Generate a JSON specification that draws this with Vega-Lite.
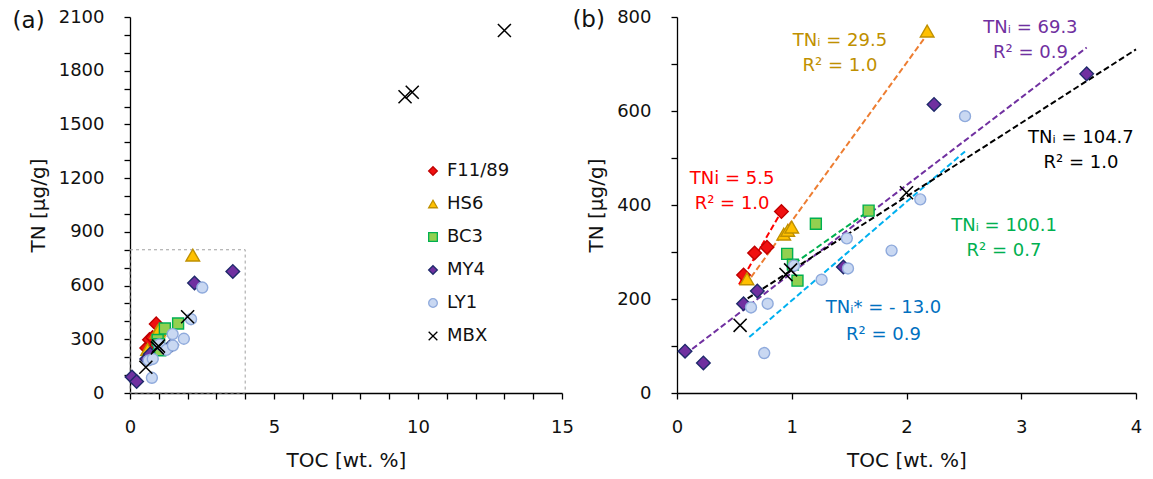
{
  "$schema": "https://vega.github.io/schema/vega-lite/v6.json",
  "background": "white",
  "padding": {"left": 12, "top": 8, "right": 5, "bottom": 2},
  "bounds": "flush",
  "spacing": 115,
  "config": {
    "view": {"stroke": null},
    "font": "DejaVu Sans",
    "axis": {
      "grid": false, "domainColor": "#000000", "tickColor": "#000000", "domainWidth": 1.3, "tickWidth": 1.3,
      "tickSize": 6, "labelFont": "DejaVu Sans", "labelFontSize": 18, "labelColor": "#111111",
      "titleFont": "DejaVu Sans", "titleFontSize": 20, "titleFontWeight": "normal", "titleColor": "#111111",
      "labelOverlap": false, "labelFlush": false, "labelBound": false
    },
    "axisX": {"titlePadding": 14, "labelPadding": 19},
    "axisY": {"titlePadding": 10, "labelPadding": 20},
    "legend": {"orient": "none", "padding": 0, "labelFont": "DejaVu Sans", "labelFontSize": 18, "labelColor": "#111111", "symbolSize": 75, "symbolStrokeWidth": 1.3, "rowPadding": 15, "labelOffset": 5}
  },
  "datasets": {
    "points": [
      {"series": "F11/89", "TOC": 0.58, "TN": 251},
      {"series": "F11/89", "TOC": 0.676, "TN": 298},
      {"series": "F11/89", "TOC": 0.784, "TN": 310},
      {"series": "F11/89", "TOC": 0.91, "TN": 386},
      {"series": "HS6", "TOC": 0.61, "TN": 243},
      {"series": "HS6", "TOC": 0.93, "TN": 338},
      {"series": "HS6", "TOC": 0.965, "TN": 346},
      {"series": "HS6", "TOC": 1.0, "TN": 353},
      {"series": "HS6", "TOC": 2.18, "TN": 770},
      {"series": "BC3", "TOC": 0.96, "TN": 296},
      {"series": "BC3", "TOC": 1.01, "TN": 273},
      {"series": "BC3", "TOC": 1.05, "TN": 239},
      {"series": "BC3", "TOC": 1.21, "TN": 360},
      {"series": "BC3", "TOC": 1.67, "TN": 388},
      {"series": "MY4", "TOC": 0.07, "TN": 89},
      {"series": "MY4", "TOC": 0.23, "TN": 64},
      {"series": "MY4", "TOC": 0.58, "TN": 190},
      {"series": "MY4", "TOC": 0.70, "TN": 217},
      {"series": "MY4", "TOC": 1.45, "TN": 268},
      {"series": "MY4", "TOC": 2.24, "TN": 614},
      {"series": "MY4", "TOC": 3.57, "TN": 679},
      {"series": "LY1", "TOC": 0.645, "TN": 182},
      {"series": "LY1", "TOC": 0.76, "TN": 85},
      {"series": "LY1", "TOC": 0.79, "TN": 190},
      {"series": "LY1", "TOC": 1.02, "TN": 271},
      {"series": "LY1", "TOC": 1.26, "TN": 241},
      {"series": "LY1", "TOC": 1.49, "TN": 265},
      {"series": "LY1", "TOC": 1.48, "TN": 329},
      {"series": "LY1", "TOC": 1.87, "TN": 303},
      {"series": "LY1", "TOC": 2.12, "TN": 412},
      {"series": "LY1", "TOC": 2.51, "TN": 589},
      {"series": "MBX", "TOC": 0.55, "TN": 144},
      {"series": "MBX", "TOC": 0.95, "TN": 252},
      {"series": "MBX", "TOC": 0.99, "TN": 262},
      {"series": "MBX", "TOC": 2.0, "TN": 426},
      {"series": "MBX", "TOC": 9.55, "TN": 1655},
      {"series": "MBX", "TOC": 9.8, "TN": 1680},
      {"series": "MBX", "TOC": 13.0, "TN": 2025}
    ],
    "fits": [
      {"series": "F11/89", "TOC": 0.54, "TN": 231},
      {"series": "F11/89", "TOC": 0.92, "TN": 390},
      {"series": "HS6", "TOC": 0.6, "TN": 231},
      {"series": "HS6", "TOC": 2.18, "TN": 763},
      {"series": "BC3", "TOC": 0.96, "TN": 265},
      {"series": "BC3", "TOC": 1.67, "TN": 387},
      {"series": "MY4", "TOC": 0.07, "TN": 82},
      {"series": "MY4", "TOC": 3.57, "TN": 735},
      {"series": "LY1", "TOC": 0.63, "TN": 119},
      {"series": "LY1", "TOC": 2.51, "TN": 514},
      {"series": "MBX", "TOC": 0.55, "TN": 191},
      {"series": "MBX", "TOC": 4.0, "TN": 731}
    ],
    "notes": [
      {"series": "F11/89", "TOC": 0.48, "TN": 455, "label": "TNi = 5.5"},
      {"series": "F11/89", "TOC": 0.48, "TN": 402, "label": "R² = 1.0"},
      {"series": "HS6", "TOC": 1.42, "TN": 749, "label": "TNᵢ = 29.5"},
      {"series": "HS6", "TOC": 1.42, "TN": 696, "label": "R² = 1.0"},
      {"series": "MY4", "TOC": 3.08, "TN": 777, "label": "TNᵢ = 69.3"},
      {"series": "MY4", "TOC": 3.08, "TN": 724, "label": "R² = 0.9"},
      {"series": "MBX", "TOC": 3.52, "TN": 543, "label": "TNᵢ = 104.7"},
      {"series": "MBX", "TOC": 3.52, "TN": 490, "label": "R² = 1.0"},
      {"series": "BC3", "TOC": 2.85, "TN": 355, "label": "TNᵢ = 100.1"},
      {"series": "BC3", "TOC": 2.85, "TN": 302, "label": "R² = 0.7"},
      {"series": "LY1", "TOC": 1.80, "TN": 180, "label": "TNᵢ* = - 13.0"},
      {"series": "LY1", "TOC": 1.80, "TN": 123, "label": "R² = 0.9"}
    ],
    "box": [{"TOC": 0, "TOC2": 4, "TN": 0, "TN2": 800}],
    "tagA": [{"label": "(a)", "TOC": -3.52, "TN": 2080}],
    "tagB": [{"label": "(b)", "TOC": -0.77, "TN": 793}]
  },
  "resolve": {
    "scale": {"x": "independent", "y": "independent", "fill": "independent", "stroke": "independent", "shape": "independent", "color": "independent"},
    "legend": {"fill": "independent", "stroke": "independent", "shape": "independent"}
  },
  "hconcat": [
    {
      "width": 432,
      "height": 376,
      "encoding": {
        "x": {"field": "TOC", "type": "quantitative",
          "scale": {"domain": [0, 15], "nice": false, "zero": false},
          "axis": {"title": "TOC [wt. %]", "values": [0,1,2,3,4,5,6,7,8,9,10,11,12,13,14,15], "format": "d",
            "labelExpr": "datum.value % 5 === 0 ? datum.label : ''"}},
        "y": {"field": "TN", "type": "quantitative",
          "scale": {"domain": [0, 2100], "nice": false, "zero": false},
          "axis": {"title": "TN [µg/g]", "values": [0,100,200,300,400,500,600,700,800,900,1000,1100,1200,1300,1400,1500,1600,1700,1800,1900,2000,2100], "format": "d",
            "labelExpr": "datum.value % 300 === 0 ? datum.label : ''"}},
        "shape": {"field": "series", "type": "nominal",
          "scale": {"domain": ["F11/89", "HS6", "BC3", "MY4", "LY1", "MBX"], "range": ["diamond", "triangle-up", "square", "diamond", "circle", "M-1,-1L1,1M-1,1L1,-1"]},
          "legend": {"title": null, "legendX": 294, "legendY": 145}},
        "fill": {"field": "series", "type": "nominal",
          "scale": {"domain": ["F11/89", "HS6", "BC3", "MY4", "LY1", "MBX"], "range": ["#F01010", "#FFC000", "#92D050", "#7030A0", "#C9D8F2", "transparent"]},
          "legend": {"title": null, "legendX": 294, "legendY": 145}},
        "stroke": {"field": "series", "type": "nominal",
          "scale": {"domain": ["F11/89", "HS6", "BC3", "MY4", "LY1", "MBX"], "range": ["#C00000", "#BF9000", "#00B050", "#1F2A6B", "#8FAADC", "#000000"]},
          "legend": {"title": null, "legendX": 294, "legendY": 145}}
      },
      "layer": [
        {
          "data": {"name": "box"},
          "mark": {"type": "rect", "fill": null, "stroke": "#A0A0A0", "strokeDash": [3, 3], "strokeWidth": 1},
          "encoding": {"x2": {"field": "TOC2"}, "y2": {"field": "TN2"}, "shape": null, "fill": null, "stroke": null}
        },
        {
          "data": {"name": "points"},
          "transform": [{"filter": "datum.series === 'F11/89' || datum.series === 'HS6' || datum.series === 'MY4'"}],
          "mark": {"type": "point", "strokeWidth": 1.4, "opacity": 1, "size": 185}
        },
        {
          "data": {"name": "points"},
          "transform": [{"filter": "datum.series === 'BC3' || datum.series === 'LY1'"}],
          "mark": {"type": "point", "strokeWidth": 1.4, "opacity": 1, "size": 120}
        },
        {
          "data": {"name": "points"},
          "transform": [{"filter": "datum.series === 'MBX'"}],
          "mark": {"type": "point", "strokeWidth": 1.5, "opacity": 1, "size": 170}
        },
        {
          "data": {"name": "tagA"},
          "mark": {"type": "text", "fontSize": 23, "color": "#111111", "align": "center", "baseline": "middle"},
          "encoding": {"text": {"field": "label"}, "shape": null, "fill": null, "stroke": null}
        }
      ]
    },
    {
      "width": 459,
      "height": 376,
      "encoding": {
        "x": {"field": "TOC", "type": "quantitative",
          "scale": {"domain": [0, 4], "nice": false, "zero": false},
          "axis": {"title": "TOC [wt. %]", "values": [0, 0.5, 1, 1.5, 2, 2.5, 3, 3.5, 4], "format": "d",
            "labelExpr": "datum.value % 1 === 0 ? datum.label : ''"}},
        "y": {"field": "TN", "type": "quantitative",
          "scale": {"domain": [0, 800], "nice": false, "zero": false},
          "axis": {"title": "TN [µg/g]", "values": [0, 100, 200, 300, 400, 500, 600, 700, 800], "format": "d",
            "labelExpr": "datum.value % 200 === 0 ? datum.label : ''"}}
      },
      "resolve": {"scale": {"color": "independent"}},
      "layer": [
        {
          "data": {"name": "fits"},
          "mark": {"type": "line", "strokeDash": [6, 3], "strokeWidth": 2},
          "encoding": {
            "color": {"field": "series", "type": "nominal",
              "scale": {"domain": ["F11/89", "HS6", "BC3", "MY4", "LY1", "MBX"], "range": ["#FF0000", "#ED7D31", "#00B050", "#7030A0", "#00B0F0", "#000000"]},
              "legend": null}
          }
        },
        {
          "data": {"name": "points"},
          "transform": [{"filter": "datum.TOC <= 4 && datum.TN <= 800"}],
          "encoding": {
            "shape": {"field": "series", "type": "nominal",
              "scale": {"domain": ["F11/89", "HS6", "BC3", "MY4", "LY1", "MBX"], "range": ["diamond", "triangle-up", "square", "diamond", "circle", "M-1,-1L1,1M-1,1L1,-1"]},
              "legend": null},
            "fill": {"field": "series", "type": "nominal",
              "scale": {"domain": ["F11/89", "HS6", "BC3", "MY4", "LY1", "MBX"], "range": ["#F01010", "#FFC000", "#92D050", "#7030A0", "#C9D8F2", "transparent"]},
              "legend": null},
            "stroke": {"field": "series", "type": "nominal",
              "scale": {"domain": ["F11/89", "HS6", "BC3", "MY4", "LY1", "MBX"], "range": ["#C00000", "#BF9000", "#00B050", "#1F2A6B", "#8FAADC", "#000000"]},
              "legend": null}
          },
          "layer": [
            {
              "transform": [{"filter": "datum.series === 'F11/89' || datum.series === 'HS6' || datum.series === 'MY4'"}],
              "mark": {"type": "point", "strokeWidth": 1.4, "opacity": 1, "size": 185}
            },
            {
              "transform": [{"filter": "datum.series === 'BC3' || datum.series === 'LY1'"}],
              "mark": {"type": "point", "strokeWidth": 1.4, "opacity": 1, "size": 120}
            },
            {
              "transform": [{"filter": "datum.series === 'MBX'"}],
              "mark": {"type": "point", "strokeWidth": 1.6, "opacity": 1, "size": 170}
            }
          ]
        },
        {
          "data": {"name": "notes"},
          "mark": {"type": "text", "fontSize": 18, "align": "center", "baseline": "middle"},
          "encoding": {
            "text": {"field": "label"},
            "color": {"field": "series", "type": "nominal",
              "scale": {"domain": ["F11/89", "HS6", "BC3", "MY4", "LY1", "MBX"], "range": ["#FF0000", "#BF9000", "#00B050", "#7030A0", "#0070C0", "#000000"]},
              "legend": null}
          }
        },
        {
          "data": {"name": "tagB"},
          "mark": {"type": "text", "fontSize": 23, "color": "#111111", "align": "center", "baseline": "middle"},
          "encoding": {"text": {"field": "label"}}
        }
      ]
    }
  ]
}
